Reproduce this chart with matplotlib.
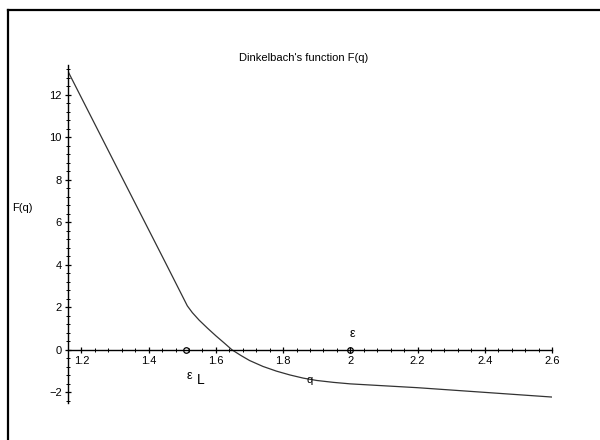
import numpy as np
import matplotlib.pyplot as plt
from matplotlib.lines import Line2D
from matplotlib.ticker import MultipleLocator

plt.rcParams['font.family'] = ['Liberation Sans', 'DejaVu Sans']

# Dinkelbach's function values
q = [1.16, 1.30, 1.45, 1.515, 1.53, 1.55, 1.575, 1.60, 1.625, 1.648, 1.675, 1.70, 1.74,
     1.78, 1.82, 1.86, 1.90, 1.95, 2.0, 2.2, 2.4, 2.6]
F = [13.1, 8.75, 4.10, 2.07, 1.75, 1.40, 1.02, 0.66, 0.32, 0.0, -0.27, -0.50, -0.78,
     -1.0, -1.18, -1.33, -1.44, -1.53, -1.6, -1.78, -2.0, -2.22]

# marked points on the q axis
marks_q = [1.51, 2.0]
marks_F = [0, 0]

fig = plt.figure(figsize=(6, 4.4), dpi=100)
ax = fig.add_axes([68/600, 1 - 403/440, (552 - 68)/600, (403 - 65)/440])

ax.plot(q, F, color='#333333', lw=0.9)
ax.plot(marks_q, marks_F, 'o', mfc='none', mec='black', ms=4, mew=0.9)

ax.set_xlim(1.16, 2.6)
ax.set_ylim(-2.5, 13.4)

ax.spines['top'].set_visible(False)
ax.spines['right'].set_visible(False)
ax.spines['bottom'].set_position(('data', 0))
for s in ['left', 'bottom']:
    ax.spines[s].set_linewidth(1.0)

ax.xaxis.set_major_locator(MultipleLocator(0.2))
ax.xaxis.set_minor_locator(MultipleLocator(0.04))
ax.yaxis.set_major_locator(MultipleLocator(2))
ax.yaxis.set_minor_locator(MultipleLocator(0.4))
ax.set_xticks([1.2, 1.4, 1.6, 1.8, 2.0, 2.2, 2.4, 2.6])
ax.set_xticklabels(['1.2', '1.4', '1.6', '1.8', '2', '2.2', '2.4', '2.6'])
ax.set_yticks([-2, 0, 2, 4, 6, 8, 10, 12])
ax.set_yticklabels(['\u22122', '0', '2', '4', '6', '8', '10', '12'])
ax.tick_params(which='major', direction='inout', length=5, width=0.9, labelsize=8, pad=2)
ax.tick_params(which='minor', direction='inout', length=3, width=0.7)

ax.text(1.88, -1.42, 'q', fontsize=8, ha='center', va='center')
ax.text(2.005, 0.75, '\u03b5', fontsize=9, ha='center', va='center')
ax.text(1.52, -1.25, '\u03b5', fontsize=9, ha='center', va='center')
ax.text(1.556, -1.4, 'L', fontsize=10, ha='center', va='center')

fig.text(12/600, 1 - 208/440, 'F(q)', fontsize=8, ha='left', va='center')
fig.text(304/600, 1 - 58/440, "Dinkelbach's function F(q)", fontsize=8, ha='center', va='center')

# outer frame
fig.add_artist(Line2D([8/600, 8/600], [0, 1 - 10/440], transform=fig.transFigure, color='black', lw=1.6))
fig.add_artist(Line2D([8/600, 1], [1 - 10/440, 1 - 10/440], transform=fig.transFigure, color='black', lw=1.6))

fig.savefig('out.png', dpi=100)
